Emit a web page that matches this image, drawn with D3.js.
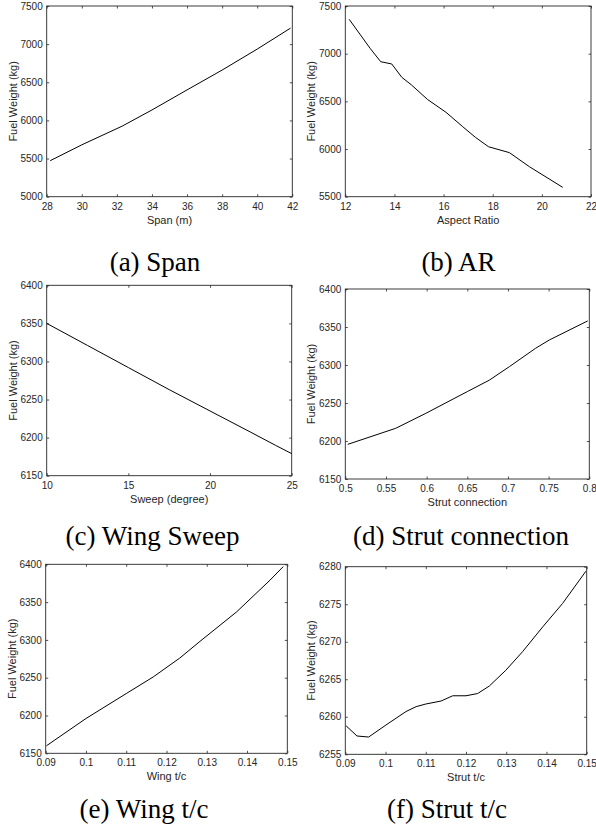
<!DOCTYPE html>
<html>
<head>
<meta charset="utf-8">
<script src="https://cdn.jsdelivr.net/npm/d3@7"></script>
<style>
  html, body { margin: 0; padding: 0; background: #fff; }
  svg { display: block; }
  .tick text { font-family: "Liberation Sans", Arial, sans-serif; font-size: 10px; fill: #262626; }
  .axlabel { font-family: "Liberation Sans", Arial, sans-serif; font-size: 11px; fill: #262626; }
  .caption { font-family: "Liberation Serif", "Times New Roman", serif; font-size: 27px; fill: #000; }
</style>
</head>
<body>
<script>
// ---------- data ----------
const spanX = [28.2, 30, 32.3, 34, 36, 38, 40, 41.9];
const spanY = [5472, 5680, 5925, 6137, 6400, 6660, 6935, 7210];

const arX = [12.16, 13.01, 13.44, 13.89, 14.30, 14.70, 15.34, 16.1, 16.78, 17.3, 17.83, 18.68, 19.49, 20.85];
const arY = [7360, 7056, 6916, 6892, 6752, 6671, 6521, 6385, 6234, 6122, 6024, 5962, 5815, 5598];

const sweepX = [10, 12.5, 15, 17.5, 20, 22.5, 24, 25];
const sweepY = [6350, 6321, 6292, 6263, 6235, 6207, 6190, 6179];

const strutConnX = [0.503, 0.562, 0.599, 0.650, 0.677, 0.702, 0.734, 0.751, 0.798];
const strutConnY = [6195.6, 6216.7, 6236.4, 6265, 6280, 6298, 6322, 6333, 6358];

const wingTcX = [0.0902, 0.1, 0.11, 0.1167, 0.1233, 0.1283, 0.1374, 0.1457, 0.149];
const wingTcY = [6160, 6196, 6229, 6251, 6276, 6298, 6337, 6379, 6397];

const strutTcX = [0.0902, 0.0929, 0.0958, 0.1001, 0.1051, 0.1076, 0.110, 0.1138, 0.1167, 0.12, 0.1229, 0.1258, 0.1299, 0.1341, 0.1391, 0.144, 0.1498];
const strutTcY = [6258.8, 6257.44, 6257.3, 6258.9, 6260.7, 6261.35, 6261.7, 6262.1, 6262.8, 6262.8, 6263.1, 6264.1, 6266.2, 6268.7, 6272.0, 6275.1, 6279.4];

// tick labels
const spanTicks = ["28", "30", "32", "34", "36", "38", "40", "42"];
const spanYTicks = ["5000", "5500", "6000", "6500", "7000", "7500"];
const arTicks = ["12", "14", "16", "18", "20", "22"];
const arYTicks = ["5500", "6000", "6500", "7000", "7500"];
const sweepTicks = ["10", "15", "20", "25"];
const fuelTicks50 = ["6150", "6200", "6250", "6300", "6350", "6400"];
const strutConnTicks = ["0.5", "0.55", "0.6", "0.65", "0.7", "0.75", "0.8"];
const tcTicks = ["0.09", "0.1", "0.11", "0.12", "0.13", "0.14", "0.15"];
const strutTcYTicks = ["6255", "6260", "6265", "6270", "6275", "6280"];

const xLabels = ["Span (m)", "Aspect Ratio", "Sweep (degree)", "Strut connection", "Wing t/c", "Strut t/c"];
const captions = ["(a) Span", "(b) AR", "(c) Wing Sweep", "(d) Strut connection", "(e) Wing t/c", "(f) Strut t/c"];
const yLabel = "Fuel Weight (kg)";

// ---------- layout ----------
const panels = [
  { xs: spanX, ys: spanY, xt: spanTicks, yt: spanYTicks, box: [46.7, 292.3, 6, 196.7], cap: [155, 271] },
  { xs: arX, ys: arY, xt: arTicks, yt: arYTicks, box: [345.3, 591, 6, 196.7], cap: [458.5, 271] },
  { xs: sweepX, ys: sweepY, xt: sweepTicks, yt: fuelTicks50, box: [46.7, 291.7, 285.3, 475.7], cap: [152.5, 545] },
  { xs: strutConnX, ys: strutConnY, xt: strutConnTicks, yt: fuelTicks50, box: [345.3, 589.3, 289, 479], cap: [461, 545] },
  { xs: wingTcX, ys: wingTcY, xt: tcTicks, yt: fuelTicks50, box: [45.7, 287.3, 564.3, 753.3], cap: [144, 818] },
  { xs: strutTcX, ys: strutTcY, xt: tcTicks, yt: strutTcYTicks, box: [345.3, 586.7, 566.7, 754.3], cap: [447, 818] }
];

const svg = d3.select("body").append("svg").attr("width", 596).attr("height", 834);
svg.append("rect").attr("width", 596).attr("height", 834).attr("fill", "#fff");

const axisColor = "#262626";
const tickLen = 2.5;

panels.forEach((p, i) => {
  const [l, r, t, b] = p.box;
  const xv = p.xt.map(Number), yv = p.yt.map(Number);
  const x = d3.scaleLinear().domain([xv[0], xv[xv.length - 1]]).range([l, r]);
  const y = d3.scaleLinear().domain([yv[0], yv[yv.length - 1]]).range([b, t]);
  const g = svg.append("g");

  const fmtX = d => p.xt[xv.indexOf(d)];
  const fmtY = d => p.yt[yv.indexOf(d)];

  const gx = g.append("g").attr("transform", `translate(0,${b})`)
    .call(d3.axisBottom(x).tickValues(xv).tickFormat(fmtX).tickSizeInner(-tickLen).tickSizeOuter(0).tickPadding(6));
  const gxt = g.append("g").attr("transform", `translate(0,${t})`)
    .call(d3.axisTop(x).tickValues(xv).tickFormat("").tickSizeInner(-tickLen).tickSizeOuter(0));
  const gy = g.append("g").attr("transform", `translate(${l},0)`)
    .call(d3.axisLeft(y).tickValues(yv).tickFormat(fmtY).tickSizeInner(-tickLen).tickSizeOuter(0).tickPadding(4));
  const gyr = g.append("g").attr("transform", `translate(${r},0)`)
    .call(d3.axisRight(y).tickValues(yv).tickFormat("").tickSizeInner(-tickLen).tickSizeOuter(0));

  [gx, gxt, gy, gyr].forEach(a => {
    a.selectAll(".domain").remove();
    a.selectAll(".tick line").attr("stroke", axisColor).attr("stroke-width", 0.8);
    a.attr("font-family", null).attr("font-size", null);
  });

  g.append("rect").attr("x", l).attr("y", t).attr("width", r - l).attr("height", b - t)
    .attr("fill", "none").attr("stroke", axisColor).attr("stroke-width", 0.9);

  const line = d3.line().x(d => x(d[0])).y(d => y(d[1]));
  g.append("path").datum(p.xs.map((v, k) => [v, p.ys[k]]))
    .attr("d", line).attr("fill", "none").attr("stroke", "#000").attr("stroke-width", 1);

  g.append("text").attr("class", "axlabel")
    .attr("x", (l + r) / 2).attr("y", b + 27).attr("text-anchor", "middle").text(xLabels[i]);

  g.append("text").attr("class", "axlabel")
    .attr("transform", `translate(${l - 30},${(t + b) / 2}) rotate(-90)`)
    .attr("text-anchor", "middle").text(yLabel);

  g.append("text").attr("class", "caption")
    .attr("x", p.cap[0]).attr("y", p.cap[1]).attr("text-anchor", "middle").text(captions[i]);
});
</script>
</body>
</html>
